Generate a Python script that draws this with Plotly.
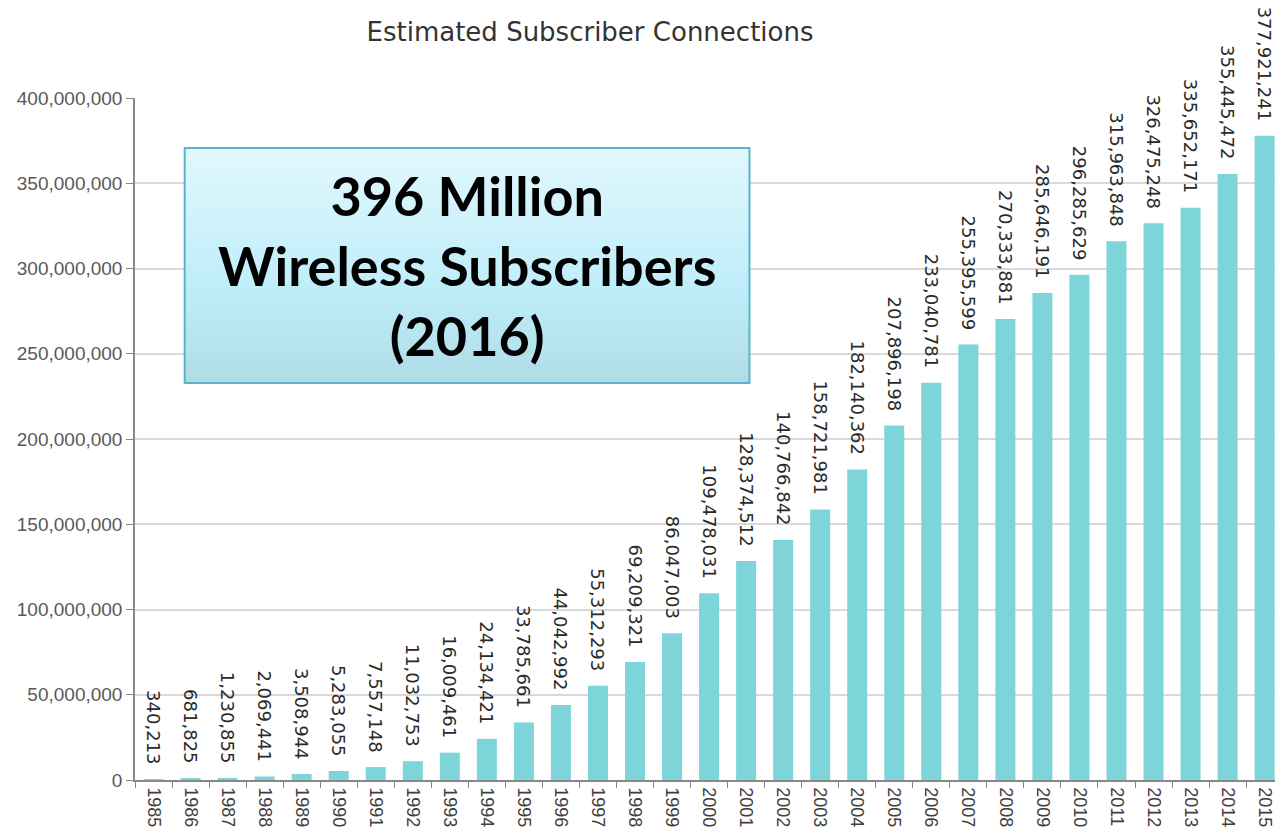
import plotly.graph_objects as go

years = [str(y) for y in range(1985, 2016)]
subscribers = [340213, 681825, 1230855, 2069441, 3508944, 5283055, 7557148, 11032753,
               16009461, 24134421, 33785661, 44042992, 55312293, 69209321, 86047003,
               109478031, 128374512, 140766842, 158721981, 182140362, 207896198,
               233040781, 255395599, 270333881, 285646191, 296285629, 315963848,
               326475248, 335652171, 355445472, 377921241]
y_ticks = [0, 50000000, 100000000, 150000000, 200000000, 250000000, 300000000, 350000000, 400000000]
y_tick_labels = ["0", "50,000,000", "100,000,000", "150,000,000", "200,000,000",
                 "250,000,000", "300,000,000", "350,000,000", "400,000,000"]
title_text = "Estimated Subscriber Connections"
box_text = "396 Million<br>Wireless Subscribers<br>(2016)"

W, H = 1267, 823
fig = go.Figure()
fig.add_trace(go.Bar(
    x=years, y=subscribers,
    marker=dict(color="#7dd5da", line=dict(width=0)),
    text=[f"{v:,}\u00a0\u00a0" for v in subscribers],
    textposition="outside", textangle=90, constraintext="none",
    textfont=dict(family="DejaVu Sans", size=18, color="#2a2a2a"),
    cliponaxis=False, width=0.54, hoverinfo="x+y",
))

# gradient box (strips)
x0, x1 = 0.0436, 0.539
y0, y1 = 0.582, 0.9267
n = 40
top = (0xe2, 0xf8, 0xfe)
mid = (0xbf, 0xee, 0xfa)
bot = (0xb0, 0xdc, 0xe6)
shapes = []
for i in range(n):
    t = (i + 0.5) / n
    if t < 0.6:
        u = t / 0.6
        c = tuple(int(top[k] + (mid[k] - top[k]) * u) for k in range(3))
    else:
        u = (t - 0.6) / 0.4
        c = tuple(int(mid[k] + (bot[k] - mid[k]) * u) for k in range(3))
    ya = y1 - (y1 - y0) * i / n
    yb = y1 - (y1 - y0) * (i + 1) / n
    shapes.append(dict(type="rect", xref="paper", yref="paper", x0=x0, x1=x1,
                       y0=yb, y1=ya + 0.001, fillcolor="rgb(%d,%d,%d)" % c,
                       line=dict(width=0), layer="above"))
shapes.append(dict(type="rect", xref="paper", yref="paper", x0=x0, x1=x1, y0=y0, y1=y1,
                   line=dict(color="#58b3cb", width=2), fillcolor="rgba(0,0,0,0)", layer="above"))

fig.update_layout(
    width=W, height=H,
    margin=dict(l=127, r=0, t=90, b=51),
    paper_bgcolor="white", plot_bgcolor="white",
    showlegend=False,
    title=dict(text=title_text, x=(590 - 8) / W, xanchor="center", xref="container",
               y=1 - 24 / H, yanchor="middle", yref="container",
               font=dict(family="DejaVu Sans", size=26, color="#333333")),
    shapes=shapes,
    annotations=[dict(text=box_text, xref="paper", yref="paper",
                      x=(x0 + x1) / 2, y=(y0 + y1) / 2, xanchor="center", yanchor="middle",
                      showarrow=False, align="center",
                      font=dict(family="Lato", size=54, color="black", weight="bold"))],
    bargap=0.46,
)
fig.update_xaxes(
    type="category", range=[-0.5, 30.28], automargin=False,
    tickangle=90, tickson="boundaries", ticks="outside", ticklen=6,
    tickcolor="#888888", showline=True, linecolor="#888888", linewidth=1.5,
    ticklabelstandoff=2,
    showgrid=False, tickfont=dict(family="Liberation Sans", size=18, color="#404040"),
)
fig.update_yaxes(
    range=[0, 400000000], tickvals=y_ticks, ticktext=y_tick_labels, automargin=False,
    ticks="outside", ticklen=7, tickcolor="#888888",
    showline=True, linecolor="#888888", linewidth=1.5,
    showgrid=True, gridcolor="#d9d9d9", gridwidth=1.5, zeroline=False,
    tickfont=dict(family="Liberation Sans", size=19, color="#595959"),
)
fig.write_html("out.html")
